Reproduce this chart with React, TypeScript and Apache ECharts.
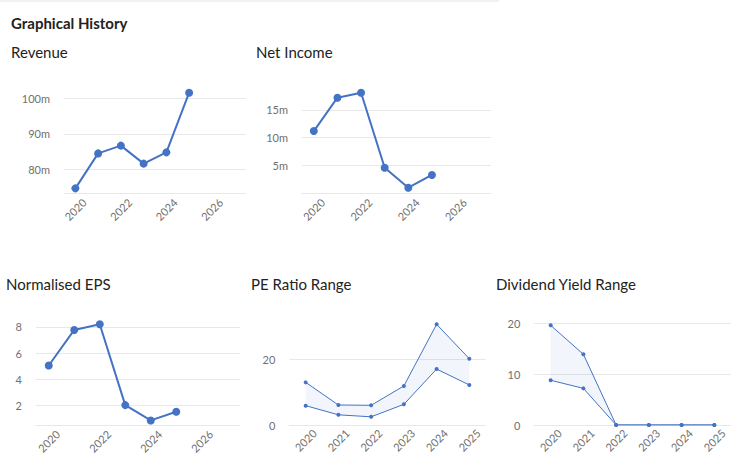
import React, { useEffect, useRef } from "react";
import * as echarts from "echarts";

// Fiscal years plotted on the line charts
const years = [2020, 2021, 2022, 2023, 2024, 2025];
const yearLabels = ["2020", "2021", "2022", "2023", "2024", "2025"];
const yearTicks = [2020, 2022, 2024, 2026];

// Values in millions
const revenue = [74.6, 84.5, 86.7, 81.6, 84.8, 101.7];
const netIncome = [11.2, 17.2, 18.1, 4.6, 1.0, 3.3];
const normalisedEps = [5.05, 7.77, 8.2, 2.02, 0.85, 1.51];

// Yearly ranges
const peHigh = [13.0, 6.1, 6.0, 11.9, 30.7, 20.2];
const peLow = [5.9, 3.1, 2.5, 6.3, 17.05, 12.2];
const divHigh = [19.6, 13.9, 0, 0, 0, 0];
const divLow = [8.8, 7.2, 0, 0, 0, 0];

const BLUE = "#4472C4";
const GRID = "#e8e8e8";
const LABEL = "#707070";
const FONT = "Lato";

const pairs = (xs: number[], ys: number[]) => xs.map((x, i) => [x, ys[i]]);

export default function App() {
  const ref = useRef<HTMLDivElement>(null);

  useEffect(() => {
    if (!ref.current) return;
    const chart = echarts.init(ref.current, undefined, { renderer: "svg" });

    const labelStyle = { color: LABEL, fontFamily: FONT, fontSize: 11 };

    const yearValueAxis = (gridIndex: number) => ({
      type: "value",
      gridIndex,
      min: 2019.5,
      max: 2027.5,
      axisLine: { show: true, lineStyle: { color: GRID, width: 1 } },
      axisTick: { show: false },
      splitLine: { show: false },
      axisLabel: {
        ...labelStyle,
        customValues: yearTicks,
        rotate: 45,
        align: "center",
        verticalAlign: "middle",
        margin: 16,
        formatter: (v: number) => String(v),
      },
    });

    const yearCategoryAxis = (gridIndex: number) => ({
      type: "category",
      gridIndex,
      data: yearLabels,
      boundaryGap: true,
      axisLine: { show: true, lineStyle: { color: GRID, width: 1 } },
      axisTick: { show: false },
      splitLine: { show: false },
      axisLabel: {
        ...labelStyle,
        interval: 0,
        rotate: 45,
        align: "center",
        verticalAlign: "middle",
        margin: 15,
      },
    });

    const valueAxis = (
      gridIndex: number,
      min: number,
      max: number,
      splitNumber: number,
      opts: { suffix?: string; showMin?: boolean; showMaxLine?: boolean } = {}
    ) => ({
      type: "value",
      gridIndex,
      min,
      max,
      splitNumber,
      axisLine: { show: false },
      axisTick: { show: false },
      splitLine: {
        show: true,
        showMinLine: false,
        showMaxLine: !!opts.showMaxLine,
        lineStyle: { color: GRID, width: 1 },
      },
      axisLabel: {
        ...labelStyle,
        margin: 14,
        showMinLabel: !!opts.showMin,
        showMaxLabel: !!opts.showMaxLine,
        formatter: (v: number) => `${v}${opts.suffix ?? ""}`,
      },
    });

    const bigLine = (name: string, idx: number, data: number[]) => ({
      name,
      type: "line",
      xAxisIndex: idx,
      yAxisIndex: idx,
      data: pairs(years, data),
      symbol: "circle",
      symbolSize: 8,
      itemStyle: { color: BLUE },
      lineStyle: { color: BLUE, width: 2 },
    });

    const thinLine = (name: string, idx: number, data: number[]) => ({
      name,
      type: "line",
      xAxisIndex: idx,
      yAxisIndex: idx,
      data,
      symbol: "circle",
      symbolSize: 4,
      itemStyle: { color: BLUE },
      lineStyle: { color: BLUE, width: 1 },
      z: 3,
    });

    // Shaded band between a low and a high series, built from a stack
    const band = (key: string, idx: number, low: number[], high: number[]) => [
      {
        name: `${key} base`,
        type: "line",
        xAxisIndex: idx,
        yAxisIndex: idx,
        stack: key,
        data: low,
        symbol: "none",
        lineStyle: { opacity: 0 },
        silent: true,
        z: 1,
      },
      {
        name: `${key} band`,
        type: "line",
        xAxisIndex: idx,
        yAxisIndex: idx,
        stack: key,
        data: high.map((h, i) => h - low[i]),
        symbol: "none",
        lineStyle: { opacity: 0 },
        areaStyle: { color: "rgba(68,114,196,0.07)", opacity: 1 },
        silent: true,
        z: 1,
      },
    ];

    const titleText = (text: string, x: number, y: number, bold = false) => ({
      type: "text",
      x,
      y,
      style: {
        text,
        fill: "#222222",
        font: `${bold ? "bold " : ""}15px ${FONT}`,
        textVerticalAlign: "middle",
      },
    });

    chart.setOption({
      animation: false,
      backgroundColor: "#ffffff",
      graphic: [
        { type: "rect", shape: { x: 0, y: 0, width: 499, height: 2 }, style: { fill: "#f1f1f1" } },
        titleText("Graphical History", 11, 23, true),
        titleText("Revenue", 11, 52),
        titleText("Net Income", 256, 52),
        titleText("Normalised EPS", 6, 284),
        titleText("PE Ratio Range", 251, 284),
        titleText("Dividend Yield Range", 496, 284),
      ],
      grid: [
        { left: 64, top: 92.7, width: 182, height: 100.6 },
        { left: 302, top: 92.7, width: 189, height: 100.6 },
        { left: 36, top: 324.3, width: 204, height: 100.7 },
        { left: 289.3, top: 324.3, width: 196.4, height: 100.7 },
        { left: 534.3, top: 323.3, width: 196.4, height: 101.7 },
      ],
      xAxis: [
        yearValueAxis(0),
        yearValueAxis(1),
        yearValueAxis(2),
        yearCategoryAxis(3),
        yearCategoryAxis(4),
      ],
      yAxis: [
        valueAxis(0, 73.2, 101.7, 3, { suffix: "m" }),
        valueAxis(1, 0, 18.1, 3, { suffix: "m" }),
        valueAxis(2, 0.5, 8.2, 4),
        valueAxis(3, 0, 30.7, 2, { showMin: true }),
        valueAxis(4, 0, 20, 2, { showMin: true, showMaxLine: true }),
      ],
      series: [
        bigLine("Revenue", 0, revenue),
        bigLine("Net Income", 1, netIncome),
        bigLine("Normalised EPS", 2, normalisedEps),
        ...band("pe", 3, peLow, peHigh),
        thinLine("PE high", 3, peHigh),
        thinLine("PE low", 3, peLow),
        ...band("div", 4, divLow, divHigh),
        thinLine("Yield high", 4, divHigh),
        thinLine("Yield low", 4, divLow),
      ],
    });

    return () => chart.dispose();
  }, []);

  return (
    <div
      ref={ref}
      style={{ position: "fixed", left: 0, top: 0, width: 737, height: 469, background: "#fff" }}
    />
  );
}
